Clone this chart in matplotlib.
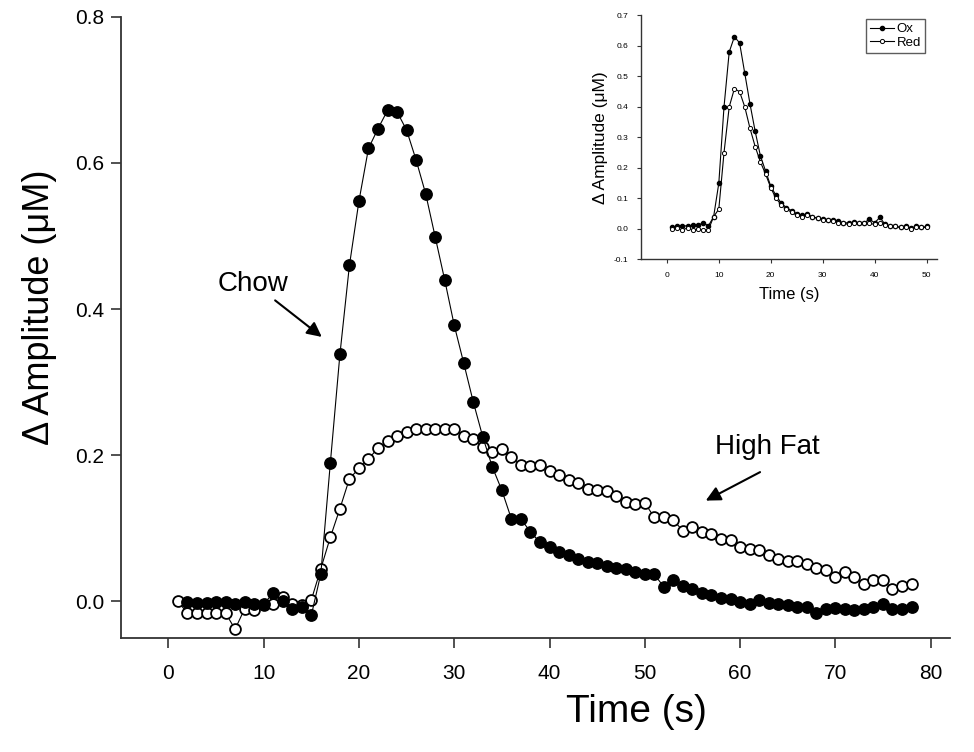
import matplotlib
matplotlib.use("Agg")
import matplotlib.pyplot as plt

plt.rcParams['font.family'] = ['Liberation Sans', 'DejaVu Sans']

# main chart: 1 s samples
time_chow = list(range(2, 79))
chow = [-0.001, -0.002, -0.002, -0.001, -0.001, -0.003, -0.001, -0.004, -0.003, 0.011,
        0.0, -0.011, -0.008, -0.019, 0.038, 0.19, 0.338, 0.46, 0.548, 0.62,
        0.647, 0.672, 0.670, 0.645, 0.604, 0.558, 0.499, 0.44, 0.378, 0.326,
        0.273, 0.225, 0.184, 0.152, 0.113, 0.113, 0.095, 0.081, 0.074, 0.068,
        0.063, 0.058, 0.054, 0.053, 0.048, 0.046, 0.044, 0.040, 0.037, 0.037,
        0.020, 0.029, 0.021, 0.017, 0.012, 0.009, 0.005, 0.004, -0.001, -0.004,
        0.002, -0.002, -0.004, -0.005, -0.008, -0.008, -0.016, -0.011, -0.009, -0.010,
        -0.012, -0.010, -0.007, -0.003, -0.011, -0.010, -0.008]

time_hf = list(range(1, 79))
high_fat = [0.0, -0.016, -0.016, -0.016, -0.016, -0.016, -0.038, -0.010, -0.012, -0.005,
            -0.004, 0.006, -0.003, -0.005, 0.002, 0.045, 0.088, 0.127, 0.168, 0.182,
            0.195, 0.210, 0.220, 0.227, 0.232, 0.236, 0.236, 0.236, 0.236, 0.236,
            0.227, 0.222, 0.212, 0.204, 0.209, 0.198, 0.187, 0.186, 0.187, 0.178,
            0.173, 0.166, 0.162, 0.154, 0.153, 0.151, 0.144, 0.136, 0.133, 0.135,
            0.115, 0.115, 0.111, 0.097, 0.102, 0.095, 0.092, 0.086, 0.084, 0.075,
            0.072, 0.071, 0.063, 0.058, 0.056, 0.055, 0.051, 0.046, 0.043, 0.034,
            0.040, 0.033, 0.024, 0.029, 0.029, 0.017, 0.021, 0.024]

# inset: Ox / Red
time_inset = list(range(1, 51))
ox = [0.005, 0.008, 0.01, 0.01, 0.012, 0.012, 0.02, 0.01, 0.04, 0.15,
      0.40, 0.58, 0.63, 0.61, 0.51, 0.41, 0.32, 0.24, 0.19, 0.14,
      0.11, 0.085, 0.07, 0.06, 0.05, 0.045, 0.048, 0.04, 0.035, 0.033,
      0.03, 0.028, 0.025, 0.02, 0.02, 0.022, 0.02, 0.02, 0.032, 0.02,
      0.038, 0.015, 0.01, 0.008, 0.005, 0.01, 0.003, 0.008, 0.005, 0.008]
red = [0.0, 0.002, -0.004, 0.004, -0.003, 0.0, -0.004, -0.003, 0.04, 0.065,
       0.25, 0.40, 0.46, 0.45, 0.40, 0.33, 0.27, 0.22, 0.18, 0.135,
       0.10, 0.08, 0.065, 0.055, 0.045, 0.04, 0.045, 0.04, 0.035, 0.03,
       0.028, 0.025, 0.02, 0.018, 0.015, 0.018, 0.02, 0.018, 0.018, 0.015,
       0.018, 0.012, 0.01, 0.008, 0.005, 0.005, 0.0, 0.005, 0.005, 0.005]

fig = plt.figure(figsize=(9.74, 7.52), dpi=100)
ax = fig.add_axes([0.124, 0.1516, 0.851, 0.826])

ax.plot(time_hf, high_fat, color='k', lw=0.8, marker='o', ms=7.8,
        mfc='white', mec='k', mew=1.3, zorder=2)
ax.plot(time_chow, chow, color='k', lw=0.8, marker='o', ms=8.2,
        mfc='k', mec='k', zorder=3)

ax.set_xlim(-5, 82)
ax.set_ylim(-0.05, 0.8)
ax.set_xticks(range(0, 81, 10))
ax.set_yticks([0.0, 0.2, 0.4, 0.6, 0.8])
ax.set_yticklabels(['0.0', '0.2', '0.4', '0.6', '0.8'])
for s in ['top', 'right']:
    ax.spines[s].set_visible(False)
for s in ['left', 'bottom']:
    ax.spines[s].set_linewidth(1.3)
    ax.spines[s].set_color('#333333')
ax.tick_params(direction='out', length=7, width=1.2, labelsize=15, color='#333333')
ax.tick_params(axis='x', pad=12)
ax.tick_params(axis='y', pad=5)

ax.set_xlabel('Time (s)', fontsize=28)
ax.set_ylabel('\u0394 Amplitude (\u03bcM)', fontsize=26)
ax.xaxis.set_label_coords(0.622, -0.09)
ax.yaxis.set_label_coords(-0.077, 0.533)

# labels with arrows
ax.text(8.85, 0.435, 'Chow', fontsize=20, ha='center', va='center')
ax.annotate('', xy=(16.1, 0.362), xytext=(11.2, 0.412),
            arrowprops=dict(arrowstyle='-|>', color='k', lw=1.5, mutation_scale=22,
                            shrinkA=0, shrinkB=0))
ax.text(62.9, 0.211, 'High Fat', fontsize=20, ha='center', va='center')
ax.annotate('', xy=(56.4, 0.138), xytext=(62.1, 0.177),
            arrowprops=dict(arrowstyle='-|>', color='k', lw=1.5, mutation_scale=22,
                            shrinkA=0, shrinkB=0))

# inset
axi = fig.add_axes([0.658, 0.655, 0.304, 0.3245])
axi.plot(time_inset, ox, color='k', lw=0.8, marker='o', ms=3, mfc='k', mec='k', label='Ox')
axi.plot(time_inset, red, color='k', lw=0.8, marker='o', ms=3, mfc='white', mec='k',
         mew=0.7, label='Red')
axi.set_xlim(-5, 52)
axi.set_ylim(-0.1, 0.7)
axi.set_xticks(range(0, 51, 10))
axi.set_yticks([-0.1, 0.0, 0.1, 0.2, 0.3, 0.4, 0.5, 0.6, 0.7])
axi.set_yticklabels(['-0.1', '0.0', '0.1', '0.2', '0.3', '0.4', '0.5', '0.6', '0.7'])
for s in ['top', 'right']:
    axi.spines[s].set_visible(False)
for s in ['left', 'bottom']:
    axi.spines[s].set_linewidth(1.0)
    axi.spines[s].set_color('#333333')
axi.tick_params(direction='out', length=3, width=0.8, labelsize=6, pad=6, color='#333333')
axi.set_xlabel('Time (s)', fontsize=12, labelpad=6)
axi.set_ylabel('\u0394 Amplitude (\u03bcM)', fontsize=12.5, labelpad=4)
axi.legend(loc='upper right', bbox_to_anchor=(0.96, 0.985), fontsize=9.5,
           frameon=True, fancybox=False, edgecolor='#333333', borderpad=0.3,
           handlelength=1.8, handletextpad=0.2, labelspacing=0.1, borderaxespad=0)

fig.savefig('out.png', dpi=100)
